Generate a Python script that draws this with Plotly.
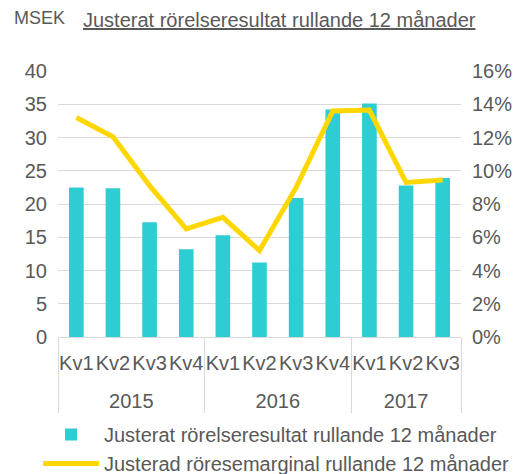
import plotly.graph_objects as go

years = ["2015"] * 4 + ["2016"] * 4 + ["2017"] * 3
quarters = ["Kv1", "Kv2", "Kv3", "Kv4", "Kv1", "Kv2", "Kv3", "Kv4", "Kv1", "Kv2", "Kv3"]
resultat = [22.5, 22.35, 17.25, 13.2, 15.3, 11.2, 20.9, 34.2, 35.1, 22.8, 23.9]
marginal = [0.132, 0.1205, 0.091, 0.065, 0.072, 0.052, 0.090, 0.136, 0.1365, 0.093, 0.0945]

grey = "#595959"
FS = 20
font = dict(family="Liberation Sans, Arial", size=FS, color=grey)

L, R, T, B = 58, 59, 71, 137
W, H = 520, 474
pw = W - L - R
ph = H - T - B

def px(xp):
    return (xp - L) / pw

def py(yp):
    return (H - B - yp) / ph

# an almost empty second line makes the quarter row taller so the year row sits lower
qlabels = [q + "<br><span style='font-size:1px'>.</span>" for q in quarters]

fig = go.Figure()
fig.add_trace(go.Bar(
    x=[years, qlabels], y=resultat,
    name="Justerat rörelseresultat rullande 12 månader",
    marker=dict(color="#2ECDD4", line=dict(width=0)),
))
fig.add_trace(go.Scatter(
    x=[years, qlabels], y=marginal, yaxis="y2", mode="lines",
    name="Justerad röresemarginal rullande 12 månader",
    line=dict(color="#FFD700", width=5),
))

fig.update_layout(
    width=W, height=H,
    margin=dict(l=L, r=R, t=T, b=B, autoexpand=False),
    paper_bgcolor="white", plot_bgcolor="white",
    font=font,
    bargap=0.6,
    showlegend=True,
    legend=dict(orientation="v", x=px(38), xanchor="left", y=py(415), yanchor="top",
                font=dict(size=FS, color=grey), itemwidth=56, tracegroupgap=0,
                bgcolor="rgba(0,0,0,0)"),
    xaxis=dict(type="multicategory", showline=True, linecolor="#D9D9D9", linewidth=1,
               showgrid=False, showdividers=True, dividercolor="#D9D9D9", dividerwidth=1,
               tickangle=0, automargin=False, ticklabelstandoff=8,
               tickfont=dict(size=FS, color=grey)),
    yaxis=dict(range=[0, 40], dtick=5, showgrid=True, gridcolor="#D9D9D9", gridwidth=1,
               zeroline=False, tickfont=dict(size=FS, color=grey), ticklabelstandoff=10,
               automargin=False),
    yaxis2=dict(range=[0, 0.16], dtick=0.02, tickformat=".0%", overlaying="y", side="right",
                showgrid=False, zeroline=False, tickfont=dict(size=FS, color=grey),
                ticklabelstandoff=10, automargin=False),
    annotations=[
        dict(text="MSEK", x=px(12), y=py(18), xref="paper", yref="paper", showarrow=False,
             xanchor="left", yanchor="middle", font=dict(size=18, color=grey)),
        dict(text="<u>Justerat rörelseresultat rullande 12 månader</u>", x=px(81), y=py(20),
             xref="paper", yref="paper", showarrow=False, xanchor="left", yanchor="middle",
             font=dict(size=FS, color=grey)),
    ],
)

fig.write_html("out.html", post_script="document.body.style.margin='0';",
               config={"displayModeBar": False})
